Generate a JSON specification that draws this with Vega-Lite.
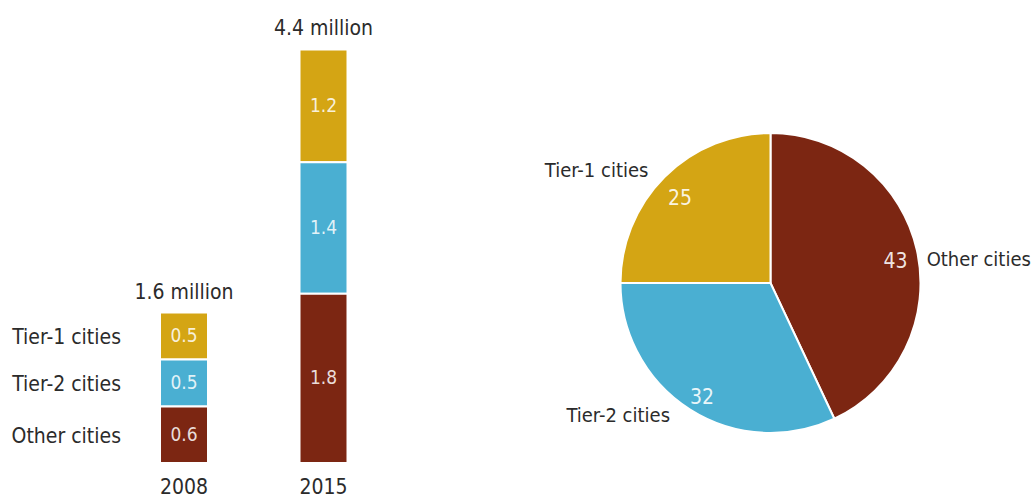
{
  "$schema": "https://vega.github.io/schema/vega-lite/v6.json",
  "background": "white",
  "padding": 0,
  "spacing": 40,
  "config": {
    "view": {"stroke": null},
    "font": "DejaVu Sans Condensed"
  },
  "datasets": {
    "bars": [
      {"year": "2008", "city": "Tier-1 cities", "value": 0.5, "rank": 3},
      {"year": "2008", "city": "Tier-2 cities", "value": 0.5, "rank": 2},
      {"year": "2008", "city": "Other cities", "value": 0.6, "rank": 1},
      {"year": "2015", "city": "Tier-1 cities", "value": 1.2, "rank": 3},
      {"year": "2015", "city": "Tier-2 cities", "value": 1.4, "rank": 2},
      {"year": "2015", "city": "Other cities", "value": 1.8, "rank": 1}
    ],
    "totals": [
      {"year": "2008", "total": 1.6, "label": "1.6 million"},
      {"year": "2015", "total": 4.4, "label": "4.4 million"}
    ],
    "pie": [
      {"city": "Other cities", "share": 43, "rank": 1},
      {"city": "Tier-2 cities", "share": 32, "rank": 2},
      {"city": "Tier-1 cities", "share": 25, "rank": 3}
    ]
  },
  "hconcat": [
    {
      "width": 466.5,
      "height": 463,
      "layer": [
        {
          "data": {"name": "bars"},
          "mark": {"type": "bar", "stroke": "white", "strokeWidth": 2},
          "encoding": {
            "x": {
              "field": "year", "type": "nominal",
              "scale": {"paddingInner": 0.656, "paddingOuter": 1, "align": 0.5735, "round": false},
              "axis": {"title": null, "domain": false, "ticks": false, "labelAngle": 0,
                       "labelFontSize": 21, "labelPadding": 13, "labelColor": "#2b2b2b"}
            },
            "y": {"field": "value", "type": "quantitative", "stack": "zero",
                  "scale": {"domain": [0, 4.926], "nice": false}, "axis": null},
            "color": {"field": "city", "type": "nominal", "legend": null,
                      "scale": {"domain": ["Tier-1 cities", "Tier-2 cities", "Other cities"],
                                "range": ["#D4A514", "#4AAFD2", "#7C2612"]}},
            "order": {"field": "rank", "type": "quantitative"}
          }
        },
        {
          "data": {"name": "bars"},
          "mark": {"type": "text", "color": "white", "fillOpacity": 0.85, "fontSize": 19, "baseline": "middle"},
          "encoding": {
            "x": {"field": "year", "type": "nominal"},
            "y": {"field": "value", "type": "quantitative", "stack": "zero", "bandPosition": 0.5},
            "text": {"field": "value", "type": "quantitative", "format": ".1f"},
            "order": {"field": "rank", "type": "quantitative"}
          }
        },
        {
          "data": {"name": "bars"},
          "transform": [{"filter": "datum.year == '2008'"}],
          "mark": {"type": "text", "color": "#2b2b2b", "fontSize": 21, "align": "right", "baseline": "middle", "dx": -63, "dy": 2},
          "encoding": {
            "x": {"field": "year", "type": "nominal"},
            "y": {"field": "value", "type": "quantitative", "stack": "zero", "bandPosition": 0.5},
            "text": {"field": "city", "type": "nominal"},
            "order": {"field": "rank", "type": "quantitative"}
          }
        },
        {
          "data": {"name": "totals"},
          "mark": {"type": "text", "color": "#2b2b2b", "fontSize": 21, "baseline": "bottom", "dy": -10},
          "encoding": {
            "x": {"field": "year", "type": "nominal"},
            "y": {"field": "total", "type": "quantitative"},
            "text": {"field": "label", "type": "nominal"}
          }
        }
      ]
    },
    {
      "width": 527,
      "height": 463,
      "data": {"name": "pie"},
      "encoding": {
        "theta": {"field": "share", "type": "quantitative", "stack": true},
        "order": {"field": "rank", "type": "quantitative"},
        "y": {"datum": 0, "type": "quantitative", "scale": {"domain": [-180, 283], "nice": false}, "axis": null}
      },
      "layer": [
        {
          "mark": {"type": "arc", "outerRadius": 150, "stroke": "white", "strokeWidth": 2},
          "encoding": {
            "color": {"field": "city", "type": "nominal", "legend": null,
                      "scale": {"domain": ["Tier-1 cities", "Tier-2 cities", "Other cities"],
                                "range": ["#D4A514", "#4AAFD2", "#7C2612"]}}
          }
        },
        {
          "mark": {"type": "text", "radius": 128, "color": "white", "fillOpacity": 0.9, "fontSize": 21, "baseline": "middle", "dy": 7},
          "encoding": {
            "text": {"field": "share", "type": "quantitative"}
          }
        },
        {
          "mark": {"type": "text", "radius": 167, "color": "#2b2b2b", "fontSize": 20, "align": "right", "baseline": "middle", "dx": -4, "dy": 6},
          "encoding": {
            "text": {"condition": {"test": "datum.city != 'Tier-1 cities'", "value": ""}, "field": "city", "type": "nominal"}
          }
        },
        {
          "mark": {"type": "text", "radius": 167, "color": "#2b2b2b", "fontSize": 20, "align": "right", "baseline": "middle", "dx": -11, "dy": -8},
          "encoding": {
            "text": {"condition": {"test": "datum.city != 'Tier-2 cities'", "value": ""}, "field": "city", "type": "nominal"}
          }
        },
        {
          "mark": {"type": "text", "radius": 160, "color": "#2b2b2b", "fontSize": 20, "align": "left", "baseline": "middle", "dy": 12},
          "encoding": {
            "text": {"condition": {"test": "datum.city != 'Other cities'", "value": ""}, "field": "city", "type": "nominal"}
          }
        }
      ]
    }
  ]
}
